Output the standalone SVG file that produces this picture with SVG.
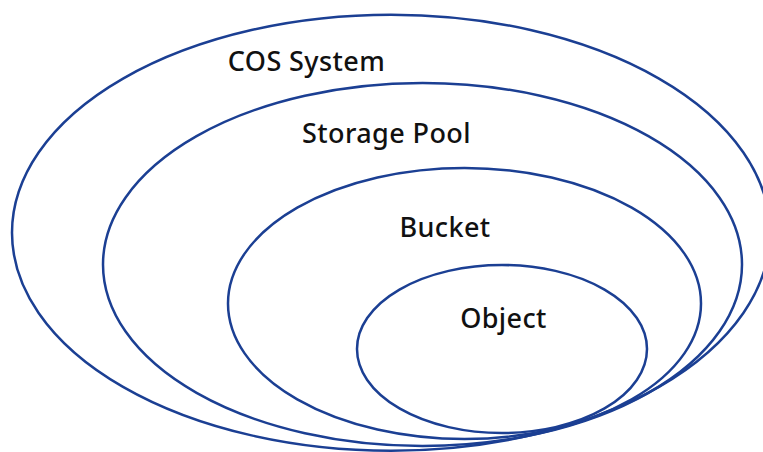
<svg xmlns="http://www.w3.org/2000/svg" width="763" height="452" viewBox="0 0 763 452">
  <style>
    .ring { fill: none; stroke: #1b3f93; stroke-width: 2.5; }
    .label { font-family: "Noto Sans", "Open Sans", sans-serif; font-size: 27px; font-weight: 500; letter-spacing: 0.4px; fill: #111111; text-anchor: middle; }
  </style>
  <rect width="763" height="452" fill="#ffffff"/>
  <!-- nested containment rings, outermost first -->
  <g id="cos-system">
    <ellipse class="ring" cx="391" cy="232.7" rx="379" ry="218"/>
    <text class="label" x="306.5" y="71">COS System</text>
  </g>
  <g id="storage-pool">
    <ellipse class="ring" cx="422.5" cy="264.5" rx="319.5" ry="181.5"/>
    <text class="label" x="386.5" y="143">Storage Pool</text>
  </g>
  <g id="bucket">
    <ellipse class="ring" cx="464.5" cy="303.5" rx="236.5" ry="135.5"/>
    <text class="label" x="445" y="237">Bucket</text>
  </g>
  <g id="object">
    <ellipse class="ring" cx="502" cy="349" rx="145" ry="84"/>
    <text class="label" x="503.5" y="328">Object</text>
  </g>
  <g id="connectors"/>
</svg>
